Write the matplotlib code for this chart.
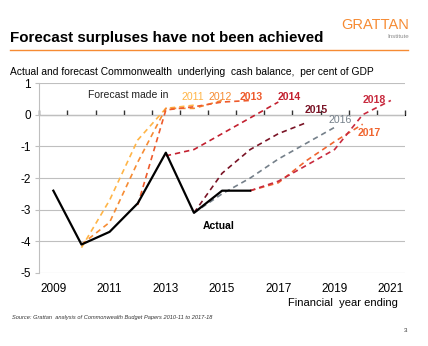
import numpy as np
import matplotlib
matplotlib.use("Agg")
import matplotlib.pyplot as plt

plt.rcParams['font.family'] = ['Liberation Sans', 'DejaVu Sans']
plt.rcParams['axes.unicode_minus'] = False

# actual underlying cash balance (% of GDP), by financial year ending
actual_years = [2009, 2010, 2011, 2012, 2013, 2014, 2015, 2016]
actual_vals = [-2.4, -4.1, -3.7, -2.8, -1.2, -3.1, -2.4, -2.4]

# forecasts, keyed by the year the forecast was made
fc_2011_years = [2010, 2011, 2012, 2013, 2014]
fc_2011_vals = [-4.2, -2.7, -0.8, 0.2, 0.3]
fc_2012_years = [2010, 2011, 2012, 2013, 2014, 2015]
fc_2012_vals = [-4.1, -3.4, -1.5, 0.2, 0.2, 0.45]
fc_2013_years = [2012, 2013, 2014, 2015, 2016]
fc_2013_vals = [-2.85, 0.15, 0.25, 0.4, 0.45]
fc_2014_years = [2013, 2014, 2015, 2016, 2017]
fc_2014_vals = [-1.3, -1.1, -0.6, -0.1, 0.4]
fc_2015_years = [2014, 2015, 2016, 2017, 2018]
fc_2015_vals = [-3.1, -1.85, -1.1, -0.6, -0.25]
fc_2016_years = [2014, 2015, 2016, 2017, 2018, 2019]
fc_2016_vals = [-3.1, -2.5, -2.0, -1.4, -0.9, -0.4]
fc_2017_years = [2016, 2017, 2018, 2019, 2020]
fc_2017_vals = [-2.4, -2.15, -1.45, -0.85, -0.3]
fc_2018_years = [2016, 2017, 2018, 2019, 2020, 2021]
fc_2018_vals = [-2.4, -2.1, -1.6, -1.1, 0.0, 0.45]

forecasts = [
    ('2011', fc_2011_years, fc_2011_vals, '#FFB547', 'normal', (2013.96, 0.57)),
    ('2012', fc_2012_years, fc_2012_vals, '#F68B33', 'normal', (2014.92, 0.57)),
    ('2013', fc_2013_years, fc_2013_vals, '#EE5A2B', 'bold', (2016.05, 0.57)),
    ('2014', fc_2014_years, fc_2014_vals, '#C3202F', 'bold', (2017.4, 0.57)),
    ('2015', fc_2015_years, fc_2015_vals, '#7A1426', 'bold', (2018.36, 0.16)),
    ('2016', fc_2016_years, fc_2016_vals, '#75808A', 'normal', (2019.21, -0.18)),
    ('2017', fc_2017_years, fc_2017_vals, '#F0652F', 'bold', (2020.24, -0.57)),
    ('2018', fc_2018_years, fc_2018_vals, '#C82A3E', 'bold', (2020.42, 0.47)),
]

year_ticks = [2009, 2011, 2013, 2015, 2017, 2019, 2021]

fig = plt.figure(figsize=(4.28, 3.46), dpi=100)
ax = fig.add_axes([0.0918, 0.211, 0.8542, 0.549])

for name, yrs, vals, col, wt, pos in forecasts:
    ax.plot(yrs, vals, color=col, lw=1.2, dashes=(3.2, 2.4), zorder=3)
    ax.text(pos[0], pos[1], name, color=col, fontsize=7.6, fontweight=wt,
            ha='center', va='center', zorder=5)

ax.plot(actual_years, actual_vals, color='black', lw=1.6, zorder=4)
ax.text(2014.87, -3.51, 'Actual', fontsize=7.5, fontweight='bold', ha='center', va='center')
ax.text(2011.65, 0.63, 'Forecast made in', fontsize=7.5, ha='center', va='center', color='#222222')

ax.set_xlim(2008.5, 2021.5)
ax.set_ylim(-5, 1)
ax.set_yticks(np.arange(-5, 2, 1))
ax.set_xticks(year_ticks)
ax.tick_params(axis='x', length=0, pad=7, labelsize=8.5)
ax.tick_params(axis='y', length=3, color='#BFBFBF', pad=3, labelsize=8.5)
ax.grid(axis='y', color='#BFBFBF', lw=0.8)
ax.set_axisbelow(True)
for s in ['top', 'right', 'bottom']:
    ax.spines[s].set_visible(False)
ax.spines['left'].set_color('#BFBFBF')

# zero line with ticks between categories
sec = ax.secondary_xaxis(5 / 6)
sec.set_xticks(np.arange(2008.5, 2022, 1))
sec.set_xticklabels([])
sec.tick_params(length=3.5, width=1, color='#333333', direction='out')
sec.spines['bottom'].set_color('#333333')
sec.spines['bottom'].set_linewidth(1.5)

fig.text(398 / 428, 1 - 303 / 346, 'Financial  year ending', fontsize=8, ha='right', va='center')

# header
fig.text(10 / 428, 1 - 38 / 346, 'Forecast surpluses have not been achieved',
         fontsize=10.9, fontweight='bold', ha='left', va='center')
fig.add_artist(plt.Line2D([10 / 428, 408 / 428], [1 - 50 / 346, 1 - 50 / 346],
                          color='#F68B33', lw=1))
fig.text(409 / 428, 1 - 25 / 346, 'GRATTAN', fontsize=10.5, color='#F68B33',
         ha='right', va='center')
fig.text(409 / 428, 1 - 36 / 346, 'Institute', fontsize=4.5, color='#8C8C8C',
         ha='right', va='center')
fig.text(10 / 428, 1 - 72 / 346,
         'Actual and forecast Commonwealth  underlying  cash balance,  per cent of GDP',
         fontsize=7.4, ha='left', va='center')
fig.text(12 / 428, 1 - 318 / 346,
         'Source: Grattan  analysis of Commonwealth Budget Papers 2010-11 to 2017-18',
         fontsize=4.1, style='italic', color='#333333', ha='left', va='center')
fig.text(406 / 428, 1 - 331 / 346, '3', fontsize=4.5, color='#333333', ha='center', va='center')

fig.savefig('out.png', dpi=100)
